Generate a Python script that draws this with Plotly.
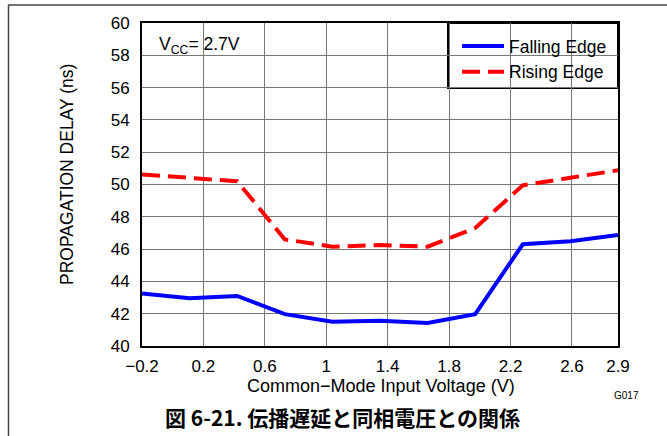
import plotly.graph_objects as go

# Data
voltage = [-0.2, 0.11, 0.42, 0.73, 1.04, 1.35, 1.66, 1.97, 2.28, 2.59, 2.9]
falling_edge = [43.25, 42.95, 43.1, 41.97, 41.5, 41.57, 41.42, 41.97, 46.3, 46.48, 46.87]
rising_edge = [50.62, 50.38, 50.2, 46.6, 46.15, 46.25, 46.15, 47.3, 49.95, 50.42, 50.88]

x_ticks = [-0.2, 0.2, 0.6, 1.0, 1.4, 1.8, 2.2, 2.6, 2.9]
x_ticktext = ["\u22120.2", "0.2", "0.6", "1", "1.4", "1.8", "2.2", "2.6", "2.9"]
y_ticks = [40, 42, 44, 46, 48, 50, 52, 54, 56, 58, 60]

W, H = 667, 436
L, R, T, B = 142, 618, 23, 346
pw, ph = R - L, B - T

def px(xp):
    return (xp - L) / pw

def py(yp):
    return (B - yp) / ph

FONT = "Liberation Sans, Arial, sans-serif"

fig = go.Figure()
fig.add_trace(go.Scatter(x=voltage, y=falling_edge, mode="lines", name="Falling Edge",
                         line=dict(color="#0000ff", width=4)))
fig.add_trace(go.Scatter(x=voltage, y=rising_edge, mode="lines", name="Rising Edge",
                         line=dict(color="#ff0000", width=4, dash="18px,8px")))

fig.update_layout(
    width=W, height=H,
    margin=dict(l=L, r=W - R, t=T, b=H - B, pad=0),
    paper_bgcolor="white", plot_bgcolor="white",
    font=dict(family=FONT, size=17, color="black"),
    showlegend=True,
    legend=dict(x=px(457), y=py(28), xanchor="left", yanchor="top",
                bgcolor="rgba(0,0,0,0)", borderwidth=0,
                font=dict(family=FONT, size=17.5), tracegroupgap=0,
                itemwidth=42),
)
fig.update_xaxes(range=[-0.2, 2.9], tickmode="array", tickvals=x_ticks, ticktext=x_ticktext,
                 showgrid=True, gridcolor="#777", gridwidth=1.2,
                 showline=True, linecolor="black", linewidth=2, mirror=True,
                 ticks="outside", ticklen=4, tickcolor="rgba(0,0,0,0)",
                 zeroline=False, tickfont=dict(size=17))
fig.update_yaxes(range=[40, 60], tickmode="array", tickvals=y_ticks,
                 showgrid=True, gridcolor="#777", gridwidth=1.2,
                 showline=True, linecolor="black", linewidth=2, mirror=True,
                 ticks="outside", ticklen=7, tickcolor="rgba(0,0,0,0)",
                 zeroline=False, tickfont=dict(size=17))

shapes = [
    # white box behind V_CC label
    dict(type="rect", xref="paper", yref="paper", x0=0, x1=px(250), y0=py(67), y1=1,
         fillcolor="white", line=dict(width=0), layer="between"),
    # legend box
    dict(type="rect", xref="paper", yref="paper", x0=px(448), x1=1, y0=py(88), y1=1,
         fillcolor="white", line=dict(color="black", width=2), layer="between"),
    # page frame lines
    dict(type="line", xref="paper", yref="paper", x0=px(8), x1=px(667), y0=py(5), y1=py(5),
         line=dict(color="#444", width=1.5)),
    dict(type="line", xref="paper", yref="paper", x0=px(8.5), x1=px(8.5), y0=py(5), y1=py(436),
         line=dict(color="#444", width=1.5)),
]
fig.update_layout(shapes=shapes)

annotations = [
    dict(text="V<sub>CC</sub>= 2.7V", xref="paper", yref="paper", x=px(157), y=py(45),
         xanchor="left", yanchor="middle", showarrow=False, font=dict(size=17.5)),
    dict(text="PROPAGATION DELAY (ns)", xref="paper", yref="paper", x=px(67), y=py(175),
         textangle=-90, xanchor="center", yanchor="middle", showarrow=False, font=dict(size=17.5)),
    dict(text="Common\u2212Mode Input Voltage (V)", xref="paper", yref="paper", x=px(381), y=py(386),
         xanchor="center", yanchor="middle", showarrow=False, font=dict(size=18)),
    dict(text="G017", xref="paper", yref="paper", x=px(626), y=py(395),
         xanchor="center", yanchor="middle", showarrow=False, font=dict(size=10)),
    dict(text="<b>図 6-21. 伝播遅延と同相電圧との関係</b>", xref="paper", yref="paper",
         x=px(342), y=py(417), xanchor="center", yanchor="middle", showarrow=False,
         font=dict(family="Noto Sans CJK JP", size=21)),
]
fig.update_layout(annotations=annotations)

fig.write_html("out.html", config={"displayModeBar": False},
               post_script="document.body.style.margin='0';")
